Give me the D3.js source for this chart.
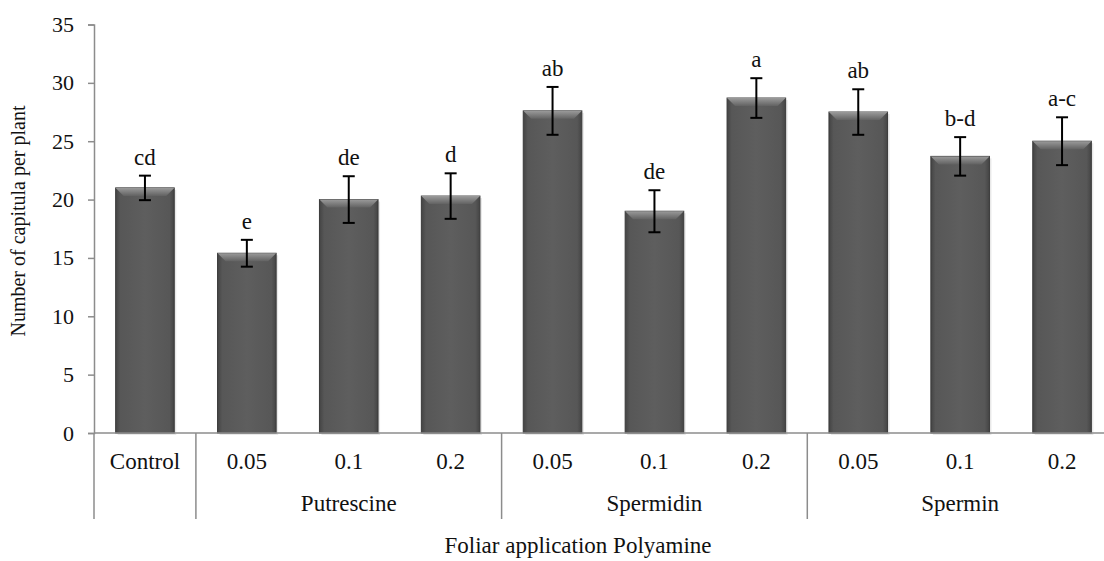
<!DOCTYPE html>
<html>
<head>
<meta charset="utf-8">
<script src="https://cdn.jsdelivr.net/npm/d3@7"></script>
<style>
  body { margin: 0; background: #fff; }
  svg text { font-family: "Times New Roman", "Liberation Serif", "DejaVu Serif", serif; fill: #111; }
</style>
</head>
<body>
<svg width="1104" height="561"></svg>
<script>
// data
let doses   = ["Control", "0.05", "0.1", "0.2", "0.05", "0.1", "0.2", "0.05", "0.1", "0.2"];
let groups  = [
    {name: "Putrescine", from: 1, to: 3},
    {name: "Spermidin",  from: 4, to: 6},
    {name: "Spermin",    from: 7, to: 9}
];
let means   = [21.0, 15.4, 20.0, 20.3, 27.6, 19.0, 28.7, 27.5, 23.7, 25.0];
let errors  = [1.05, 1.15, 2.0, 1.95, 2.05, 1.8, 1.7, 1.95, 1.65, 2.05];
let letters = ["cd", "e", "de", "d", "ab", "de", "a", "ab", "b-d", "a-c"];
let yTicks  = [0, 5, 10, 15, 20, 25, 30, 35];

const serif = "'Liberation Serif', 'Times New Roman', 'DejaVu Serif', serif";

let svg = d3.select("svg");

let x = d3.scaleBand()
    .domain(d3.range(doses.length))
    .range([94, 1113])
    .paddingInner(0.425)
    .paddingOuter(0.2125);
let y = d3.scaleLinear().domain([0, 35]).range([433, 24.5]);

let step = x.step();
let bw = x.bandwidth();

// gradients for the bevelled bars
let defs = svg.append("defs");
let sideGrad = defs.append("linearGradient").attr("id", "barSide");
[[0, "#444"], [0.08, "#575757"], [0.5, "#5e5e5e"], [0.92, "#575757"], [1, "#444"]]
    .forEach(s => sideGrad.append("stop").attr("offset", s[0]).attr("stop-color", s[1]));
let topGrad = defs.append("linearGradient").attr("id", "barTop")
    .attr("x1", 0).attr("y1", 0).attr("x2", 0).attr("y2", 1);
[[0, "#9a9a9a"], [1, "#626262"]]
    .forEach(s => topGrad.append("stop").attr("offset", s[0]).attr("stop-color", s[1]));

// y axis
let yAxis = svg.append("g").attr("transform", "translate(94,0)")
    .call(d3.axisLeft(y).tickValues(yTicks).tickSize(6).tickPadding(14));
yAxis.attr("font-family", serif);
yAxis.select(".domain").attr("stroke", "#8c8c8c").attr("stroke-width", 1.5);
yAxis.selectAll(".tick line").attr("stroke", "#8c8c8c").attr("stroke-width", 1.5);
yAxis.selectAll(".tick text")
    .attr("font-family", serif).attr("font-size", 22).attr("fill", "#111");

// bars
let bars = svg.append("g").selectAll("g.bar")
    .data(means).enter().append("g").attr("class", "bar");

bars.append("rect")
    .attr("x", (d, i) => x(i) + 2)
    .attr("y", d => y(d) + 2)
    .attr("width", bw)
    .attr("height", d => y(0) - y(d))
    .attr("fill", "#d8d8d8").attr("opacity", 0.6);

bars.append("rect")
    .attr("x", (d, i) => x(i))
    .attr("y", d => y(d))
    .attr("width", bw)
    .attr("height", d => y(0) - y(d))
    .attr("fill", "url(#barSide)")
    .attr("stroke", "#3a3a3a").attr("stroke-width", 1);

let bev = 8;
bars.append("path")
    .attr("d", (d, i) => {
        let x0 = x(i), x1 = x(i) + bw, y0 = y(d);
        return `M${x0},${y0}L${x1},${y0}L${x1 - bev},${y0 + bev}L${x0 + bev},${y0 + bev}Z`;
    })
    .attr("fill", "url(#barTop)");

// x axis line
svg.append("line")
    .attr("x1", 94).attr("x2", 1113)
    .attr("y1", y(0)).attr("y2", y(0))
    .attr("stroke", "#8c8c8c").attr("stroke-width", 1.5);

// error bars
let err = svg.append("g").attr("stroke", "#000").attr("stroke-width", 2);
means.forEach((m, i) => {
    let cx = x(i) + bw / 2;
    let hi = y(m + errors[i]), lo = y(m - errors[i]);
    err.append("line").attr("x1", cx).attr("x2", cx).attr("y1", hi).attr("y2", lo);
    err.append("line").attr("x1", cx - 6).attr("x2", cx + 6).attr("y1", hi).attr("y2", hi);
    err.append("line").attr("x1", cx - 6).attr("x2", cx + 6).attr("y1", lo).attr("y2", lo);
});

let labels = svg.append("g").attr("font-family", serif).attr("fill", "#111");

// significance letters
labels.append("g").selectAll("text")
    .data(letters).enter().append("text")
    .attr("x", (d, i) => x(i) + bw / 2)
    .attr("y", (d, i) => y(means[i] + errors[i]) - 11)
    .attr("text-anchor", "middle")
    .attr("font-size", 23)
    .text(d => d);

// category labels (two levels)
labels.append("g").selectAll("text")
    .data(doses).enter().append("text")
    .attr("x", (d, i) => x(i) + bw / 2)
    .attr("y", 469)
    .attr("text-anchor", "middle")
    .attr("font-size", 23)
    .text(d => d);

let edge = i => x(i) - x.paddingOuter() * step;
let seps = [0, 1, 4, 7];
svg.append("g").selectAll("line")
    .data(seps).enter().append("line")
    .attr("x1", d => edge(d)).attr("x2", d => edge(d))
    .attr("y1", y(0)).attr("y2", 519)
    .attr("stroke", "#8c8c8c").attr("stroke-width", 1.5);

labels.append("g").selectAll("text")
    .data(groups).enter().append("text")
    .attr("x", g => (edge(g.from) + edge(g.to) + step) / 2)
    .attr("y", 511)
    .attr("text-anchor", "middle")
    .attr("font-size", 23)
    .text(g => g.name);

// axis titles
labels.append("text")
    .attr("x", 578).attr("y", 553)
    .attr("text-anchor", "middle")
    .attr("font-size", 23)
    .text("Foliar application Polyamine");

labels.append("text")
    .attr("transform", "translate(25,221) rotate(-90)")
    .attr("text-anchor", "middle")
    .attr("font-size", 20)
    .text("Number of capitula per plant");
</script>
</body>
</html>
